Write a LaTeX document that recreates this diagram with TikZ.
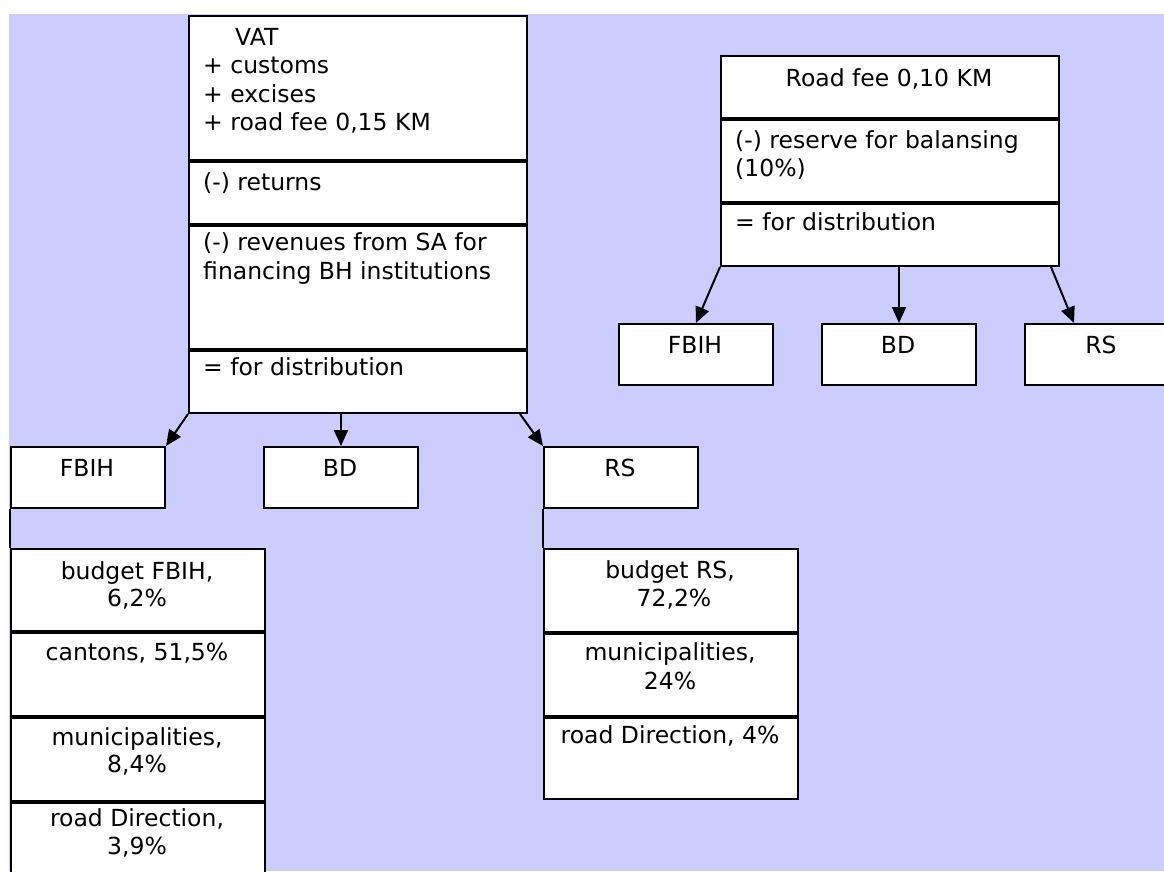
\documentclass[tikz,border=0pt]{standalone}
\usepackage{fontspec}
\newfontfamily\dv{DejaVu Sans}
\usetikzlibrary{arrows.meta}
\definecolor{lav}{HTML}{CCCCFF}
\begin{document}
\begin{tikzpicture}[x=1pt,y=-1pt,
 sec/.style={draw=black, fill=white, line width=2pt, inner sep=0pt, anchor=north west},
 txt/.style={font=\dv\fontsize{23.5}{28}\selectfont, inner sep=0pt, text=black},
 tl/.style={txt, anchor=base west},
 tc/.style={txt, anchor=base},
 conn/.style={draw=black, line width=2pt, -{Triangle[length=16pt,width=14pt]}},
 link/.style={draw=black, line width=2pt}]
\useasboundingbox (0,0) rectangle (1164,871);
\fill[lav] (9,14) rectangle (1164,871);

% VAT box
\node[sec, minimum width=338pt, minimum height=144pt] (v1) at (188,15) {};
\node[sec, minimum width=338pt, minimum height=62pt] (v2) at (v1.south west) {};
\node[sec, minimum width=338pt, minimum height=123pt] (v3) at (v2.south west) {};
\node[sec, minimum width=338pt, minimum height=62pt] (v4) at (v3.south west) {};
\node[tl] (tvat) at (235,45) {VAT};
\node[tl] (tcus) at (203,73) {+ customs};
\node[tl] (texc) at (203,102.7) {+ excises};
\node[tl] (trfee) at (203,130.7) {+ road fee 0,15 KM};
\node[tl] (tret) at (203,190) {(-) returns};
\node[tl] (trev) at (203,250.7) {(-) revenues from SA for};
\node[tl] (tfin) at (203,279.3) {financing BH institutions};
\node[tl] (tdis) at (203,375) {= for distribution};

% Road fee box
\node[sec, minimum width=338pt, minimum height=62pt] (r1) at (720,55) {};
\node[sec, minimum width=338pt, minimum height=82pt] (r2) at (r1.south west) {};
\node[sec, minimum width=338pt, minimum height=62pt] (r3) at (r2.south west) {};
\node[tc] (trf) at (889,86.7) {Road fee 0,10 KM};
\node[tl] (tres) at (735,148.3) {(-) reserve for balansing};
\node[tl] (tpct) at (735,176.7) {(10\%)};
\node[tl] (tdis2) at (735,230) {= for distribution};

% small boxes, left group
\node[sec, minimum width=154pt, minimum height=61pt] (fb1) at (10,446) {};
\node[sec, minimum width=154pt, minimum height=61pt] (bd1) at (263,446) {};
\node[sec, minimum width=154pt, minimum height=61pt] (rs1) at (543,446) {};
\node[tc] (tfb1) at (87,476) {FBIH};
\node[tc] (tbd1) at (340,476) {BD};
\node[tc] (trs1) at (620,476) {RS};

% small boxes, right group
\node[sec, minimum width=154pt, minimum height=61pt] (fb2) at (618,323) {};
\node[sec, minimum width=154pt, minimum height=61pt] (bd2) at (821,323) {};
\node[sec, minimum width=154pt, minimum height=61pt] (rs2) at (1024,323) {};
\node[tc] (tfb2) at (695,353) {FBIH};
\node[tc] (tbd2) at (898,353) {BD};
\node[tc] (trs2) at (1101,353) {RS};

% lower left box (FBIH)
\node[sec, minimum width=254pt, minimum height=82pt] (lf1) at (10,548) {};
\node[sec, minimum width=254pt, minimum height=83pt] (lf2) at (lf1.south west) {};
\node[sec, minimum width=254pt, minimum height=83pt] (lf3) at (lf2.south west) {};
\node[sec, minimum width=254pt, minimum height=100pt] (lf4) at (lf3.south west) {};
\node[tc] (tbf1) at (137,579.3) {budget FBIH,};
\node[tc] (tbf2) at (137,606.7) {6,2\%};
\node[tc] (tcan) at (137,660.7) {cantons, 51,5\%};
\node[tc] (tmf1) at (137,745) {municipalities,};
\node[tc] (tmf2) at (137,772.3) {8,4\%};
\node[tc] (tdf1) at (137,826.7) {road Direction,};
\node[tc] (tdf2) at (137,854.3) {3,9\%};

% lower right box (RS)
\node[sec, minimum width=254pt, minimum height=83pt] (lr1) at (543,548) {};
\node[sec, minimum width=254pt, minimum height=82pt] (lr2) at (lr1.south west) {};
\node[sec, minimum width=254pt, minimum height=81pt] (lr3) at (lr2.south west) {};
\node[tc] (tbr1) at (670,578.3) {budget RS,};
\node[tc] (tbr2) at (674,606.7) {72,2\%};
\node[tc] (tmr1) at (670,660.7) {municipalities,};
\node[tc] (tmr2) at (670,689.3) {24\%};
\node[tc] (tdr) at (670,743.3) {road Direction, 4\%};

% connectors
\draw[conn] (v4.south west) -- (fb1.north east);
\draw[conn] (bd1.north |- v4.south) -- (bd1.north);
\draw[conn] ([xshift=-8pt]v4.south east) -- (rs1.north west);
\draw[conn] (r3.south west) -- (fb2.north);
\draw[conn] (bd2.north |- r3.south) -- (bd2.north);
\draw[conn] ([xshift=-9pt]r3.south east) -- ([xshift=50pt]rs2.north west);
\draw[link] (fb1.south west) -- (lf1.north west);
\draw[link] (rs1.south west) -- (lr1.north west);
\end{tikzpicture}
\end{document}
